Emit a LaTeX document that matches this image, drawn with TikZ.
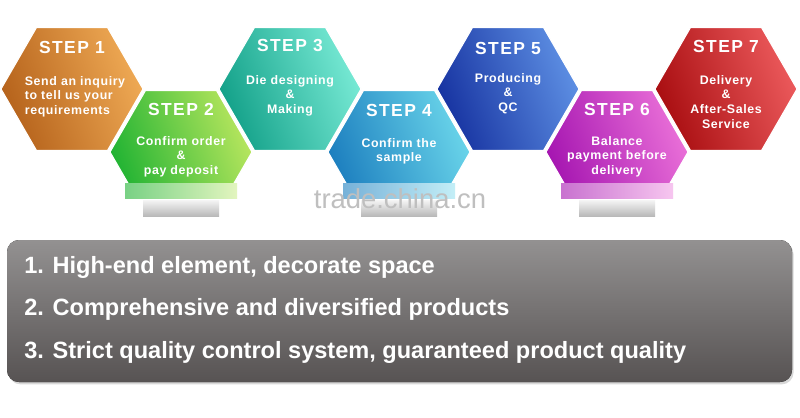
\documentclass[tikz,border=0pt]{standalone}
\usepackage{fontspec}
\setsansfont{Liberation Sans}
\newfontfamily\pasofont[LetterSpace=8]{Liberation Sans}
\newfontfamily\textofont[LetterSpace=5]{Liberation Sans}
\usetikzlibrary{calc,shapes.geometric,shadows}
\definecolor{ocre}{HTML}{B5621B}
\definecolor{ocreclaro}{HTML}{EFAA55}
\definecolor{verde}{HTML}{1EB232}
\definecolor{verdeclaro}{HTML}{B8E65E}
\definecolor{turquesa}{HTML}{12A088}
\definecolor{turquesaclaro}{HTML}{78EAD5}
\definecolor{celeste}{HTML}{1B7DBE}
\definecolor{celesteclaro}{HTML}{6AD5EA}
\definecolor{azul}{HTML}{1632A0}
\definecolor{azulclaro}{HTML}{5E90E4}
\definecolor{fucsia}{HTML}{A414B0}
\definecolor{fucsiaclaro}{HTML}{EA70D8}
\definecolor{rojo}{HTML}{A80D10}
\definecolor{rojoclaro}{HTML}{EC5A5C}
\definecolor{grisclaro}{HTML}{939191}
\definecolor{grisoscuro}{HTML}{575353}

\begin{document}
\begin{tikzpicture}[x=0.025cm, y=0.025cm, font=\sffamily,
  hexa/.style={regular polygon, regular polygon sides=6, minimum size=3.55cm,
    inner sep=0pt, outer sep=0pt, draw=white, line width=0.8pt},
  paso/.style={text=white, inner sep=0pt, font=\pasofont\bfseries\fontsize{12.4}{14}\selectfont},
  texto/.style={text=white, align=center, inner sep=0pt, anchor=north,
    font=\textofont\bfseries\fontsize{8.8}{10.4}\selectfont},
  sombra/.style={top color=gray!8, bottom color=gray!55},
  lista/.style={text=white, anchor=base west, inner sep=0pt,
    font=\sffamily\bfseries\fontsize{16.75}{20}\selectfont}]
  \fill[white] (0,0) rectangle (800,-417);
  \useasboundingbox (0,0) rectangle (800,-417);

  % pasos de arriba
  \node[hexa, left color=ocre, right color=ocreclaro, shading angle=110] (s1) at (72,-89) {};
  \node[hexa, left color=turquesa, right color=turquesaclaro, shading angle=110] (s3) at (290,-89) {};
  \node[hexa, left color=azul, right color=azulclaro, shading angle=110] (s5) at (508,-89) {};
  \node[hexa, left color=rojo, right color=rojoclaro, shading angle=110] (s7) at (726,-89) {};

  % pasos de abajo, cortados
  \begin{scope}
    \clip (0,0) rectangle (800,-183);
    \node[hexa, left color=verde, right color=verdeclaro, shading angle=110] (s2) at (181,-152) {};
    \node[hexa, left color=celeste, right color=celesteclaro, shading angle=110] (s4) at (399,-152) {};
    \node[hexa, left color=fucsia, right color=fucsiaclaro, shading angle=110] (s6) at (617,-152) {};
  \end{scope}

  % reflejos y sombras
  \fill[left color=verde!60!white, right color=verdeclaro!40!white] ($(s2)+(-56,-31)$) rectangle ($(s2)+(56,-46)$);
  \fill[left color=celeste!60!white, right color=celesteclaro!40!white] ($(s4)+(-56,-31)$) rectangle ($(s4)+(56,-46)$);
  \fill[left color=fucsia!60!white, right color=fucsiaclaro!40!white] ($(s6)+(-56,-31)$) rectangle ($(s6)+(56,-46)$);
  \fill[sombra] ($(s2)+(-38,-48)$) rectangle ($(s2)+(38,-64)$);
  \fill[sombra] ($(s4)+(-38,-48)$) rectangle ($(s4)+(38,-64)$);
  \fill[sombra] ($(s6)+(-38,-48)$) rectangle ($(s6)+(38,-64)$);

  % textos
  \node[paso] (p1) at ($(s1)+(0,42)$) {STEP 1};
  \node[texto, align=left] (d1) at ($(s1)+(3,13)$) {Send an inquiry\\to tell us your\\requirements};
  \node[paso] (p2) at ($(s2)+(0,43)$) {STEP 2};
  \node[texto] (d2) at ($(s2)+(0,16)$) {Confirm order\\\&\\pay deposit};
  \node[paso] (p3) at ($(s3)+(0,43)$) {STEP 3};
  \node[texto] (d3) at ($(s3)+(0,14)$) {Die designing\\\&\\Making};
  \node[paso] (p4) at ($(s4)+(0,42)$) {STEP 4};
  \node[texto] (d4) at ($(s4)+(0,14)$) {Confirm the\\sample};
  \node[paso] (p5) at ($(s5)+(0,41)$) {STEP 5};
  \node[texto] (d5) at ($(s5)+(0,16)$) {Producing\\\&\\QC};
  \node[paso] (p6) at ($(s6)+(0,43)$) {STEP 6};
  \node[texto] (d6) at ($(s6)+(0,16)$) {Balance\\payment before\\delivery};
  \node[paso] (p7) at ($(s7)+(0,43)$) {STEP 7};
  \node[texto] (d7) at ($(s7)+(0,14)$) {Delivery\\\&\\After-Sales\\Service};

  \node[text=gray!50, anchor=base, inner sep=0pt, font=\sffamily\fontsize{19.5}{22}\selectfont] (marca) at (400,-208) {trade.china.cn};

  % caja gris
  \fill[top color=grisclaro, bottom color=grisoscuro, rounded corners=0.3cm,
    drop shadow={shadow xshift=0.04cm, shadow yshift=-0.06cm, opacity=0.3}] (7,-240) rectangle (792,-382);
  \node[lista] (l1) at (24,-273) {1. High-end element, decorate space};
  \node[lista] (l2) at (24,-315) {2. Comprehensive and diversified products};
  \node[lista] (l3) at (24,-358) {3. Strict quality control system, guaranteed product quality};
\end{tikzpicture}
\end{document}
